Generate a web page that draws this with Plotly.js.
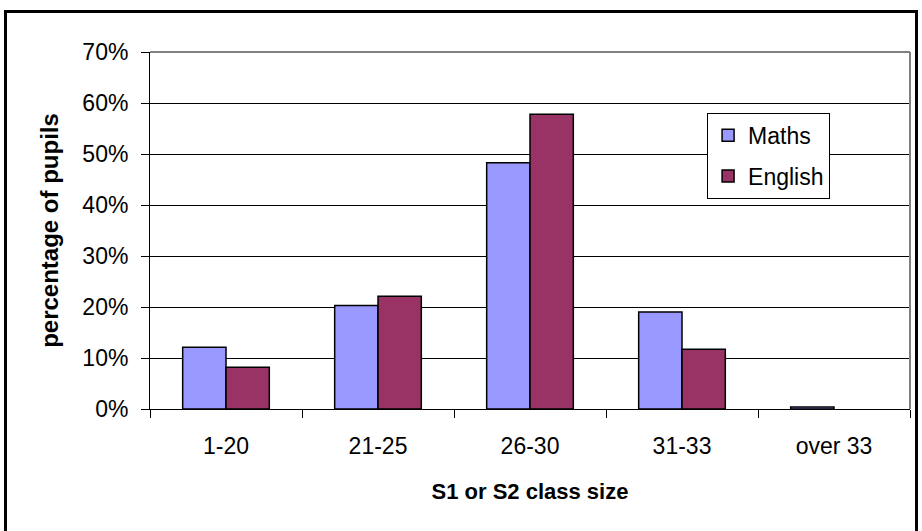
<!DOCTYPE html>
<html><head><meta charset="utf-8">
<script src="https://cdn.plot.ly/plotly-3.0.1.min.js"></script>
<style>
html,body{margin:0;padding:0;background:#fff;overflow:hidden}
#frame{position:absolute;left:4px;top:10px;width:914px;height:530px;border:3px solid #000;border-bottom:none;box-sizing:border-box}
#chart{position:absolute;left:0;top:0;width:922px;height:531px}
</style></head>
<body>
<div id="frame"></div>
<div id="chart"></div>
<script>
var categories = ["1-20", "21-25", "26-30", "31-33", "over 33"];
var mathsValues = [0.121, 0.203, 0.483, 0.190, 0.004];
var englishValues = [0.082, 0.221, 0.578, 0.117, 0.0];
var yTickValues = [0, 0.1, 0.2, 0.3, 0.4, 0.5, 0.6, 0.7];

function outlineWidths(vals) {
  return vals.map(function (v) { return v > 0 ? 1.5 : 0; });
}

var traces = [
  {type: 'bar', name: 'Maths', x: categories, y: mathsValues, legendgroup: 'm',
   marker: {color: '#9999ff', line: {color: '#000', width: outlineWidths(mathsValues)}}},
  {type: 'bar', name: 'English', x: categories, y: englishValues, legendgroup: 'e',
   marker: {color: '#993366', line: {color: '#000', width: outlineWidths(englishValues)}}}
];

var layout = {
  width: 922, height: 531,
  paper_bgcolor: 'rgba(0,0,0,0)', plot_bgcolor: '#fff',
  margin: {l: 150, r: 12, t: 52, b: 122},
  font: {family: 'Liberation Sans, Arial, sans-serif', color: '#000', size: 23},
  barmode: 'group', bargap: 0.43, bargroupgap: 0,
  showlegend: true,
  legend: {x: 0.733, y: 0.83, xanchor: 'left', yanchor: 'top',
    bgcolor: '#fff', bordercolor: '#000', borderwidth: 1,
    font: {size: 23}, tracegroupgap: 8, itemwidth: 30},
  xaxis: {
    type: 'category', tickson: 'boundaries', ticks: 'outside', ticklen: 8,
    tickcolor: '#000', showline: true, linecolor: '#000', linewidth: 1,
    showgrid: false, tickfont: {size: 23}, ticklabelstandoff: 16,
    title: {text: '<b>S1 or S2 class size</b>', font: {size: 22}, standoff: 26}
  },
  yaxis: {
    range: [0, 0.7], tickvals: yTickValues, tickformat: '.0%',
    ticks: 'outside', ticklen: 8, tickcolor: '#000',
    showline: true, linecolor: '#000', linewidth: 1,
    showgrid: true, gridcolor: '#000', gridwidth: 1, zeroline: false,
    tickfont: {size: 23}, ticklabelstandoff: 8,
    title: {text: '<b>percentage of pupils</b>', font: {size: 24}, standoff: 16}
  },
  shapes: [
    {type: 'line', xref: 'paper', yref: 'paper', x0: 0, x1: 1, y0: 1, y1: 1, line: {color: '#808080', width: 2}},
    {type: 'line', xref: 'paper', yref: 'paper', x0: 1, x1: 1, y0: 0, y1: 1, line: {color: '#808080', width: 2}}
  ]
};

Plotly.newPlot('chart', traces, layout, {displayModeBar: false, staticPlot: true});
</script>
</body></html>
